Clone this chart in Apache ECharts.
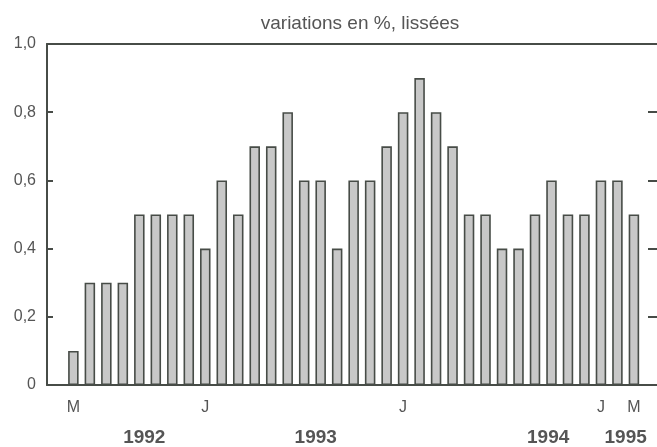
<!DOCTYPE html>
<html>
<head>
<meta charset="utf-8">
<script src="https://cdn.jsdelivr.net/npm/echarts@6/dist/echarts.min.js"></script>
<style>html,body{margin:0;padding:0;background:#fff}#c{width:657px;height:447px}</style>
</head>
<body>
<div id="c"></div>
<script>
// Monthly bars, May 1992 – March 1995
const monthLabels = ['M','','','','','','','','J','','','','','','','','','','','','J','','','','','','','','','','','','J','','M'];
const values = [0.1,0.3,0.3,0.3,0.5,0.5,0.5,0.5,0.4,0.6,0.5,0.7,0.7,0.8,0.6,0.6,0.4,0.6,0.6,0.7,0.8,0.9,0.8,0.7,0.5,0.5,0.4,0.4,0.5,0.6,0.5,0.5,0.6,0.6,0.5];
const years = ['1992','1993','1994','1995'];
const yearPos = [4.3, 14.7, 28.8, 33.5];

const monthPos = monthLabels.map((m,i)=>m ? i : null).filter(v=>v!==null);
const font = 'Liberation Sans, Arial, sans-serif';
const lineCol = '#474c47';
const chart = echarts.init(document.getElementById('c'));
chart.setOption({
  animation: false,
  title: {text: 'variations en %, lissées', left: 355, textAlign: 'center', top: 9,
    textStyle: {fontFamily: font, fontSize: 19, fontWeight: 'normal', color: '#555'}},
  grid: {left: 47, right: -1, top: 44, bottom: 61},
  xAxis: [{
    type: 'value', min: -1.6, max: 35.4,
    axisLine: {show: true, onZero: false, lineStyle: {color: lineCol, width: 2}},
    axisTick: {show: false}, splitLine: {show: false},
    axisLabel: {customValues: monthPos, formatter: v => monthLabels[Math.round(v)] || '',
      fontFamily: font, fontSize: 16, color: '#555', margin: 15}
  },{
    type: 'value', min: -1.6, max: 35.4, position: 'bottom', offset: 28,
    axisLine: {show: false}, axisTick: {show: false}, splitLine: {show: false},
    axisLabel: {customValues: yearPos, formatter: v => years[yearPos.indexOf(v)] || '',
      fontFamily: font, fontSize: 19, fontWeight: 'bold', color: '#555', margin: 15}
  },{
    type: 'value', min: -1.6, max: 35.4, position: 'top',
    axisLine: {show: true, onZero: false, lineStyle: {color: lineCol, width: 2}},
    axisTick: {show: false}, splitLine: {show: false}, axisLabel: {show: false}
  }],
  yAxis: [{
    type: 'value', min: 0, max: 1, interval: 0.2,
    axisLine: {show: true, onZero: false, lineStyle: {color: lineCol, width: 2}},
    axisTick: {show: true, inside: true, length: 6, lineStyle: {color: lineCol, width: 2}},
    splitLine: {show: false},
    axisLabel: {formatter: v => v === 0 ? '0' : v.toFixed(1).replace('.', ','),
      fontFamily: font, fontSize: 16, color: '#555', margin: 11}
  },{
    type: 'value', min: 0, max: 1, interval: 0.2, position: 'right',
    axisLine: {show: false, onZero: false},
    axisTick: {show: true, inside: true, length: 9, lineStyle: {color: lineCol, width: 2}},
    splitLine: {show: false}, axisLabel: {show: false}
  }],
  series: [{
    type: 'bar', xAxisIndex: 0, yAxisIndex: 0,
    data: values.map((v,i)=>[i, v]),
    barWidth: 10.5,
    itemStyle: {color: '#c8c8c8', borderColor: lineCol, borderWidth: 1.6}
  }]
});
</script>
</body>
</html>
